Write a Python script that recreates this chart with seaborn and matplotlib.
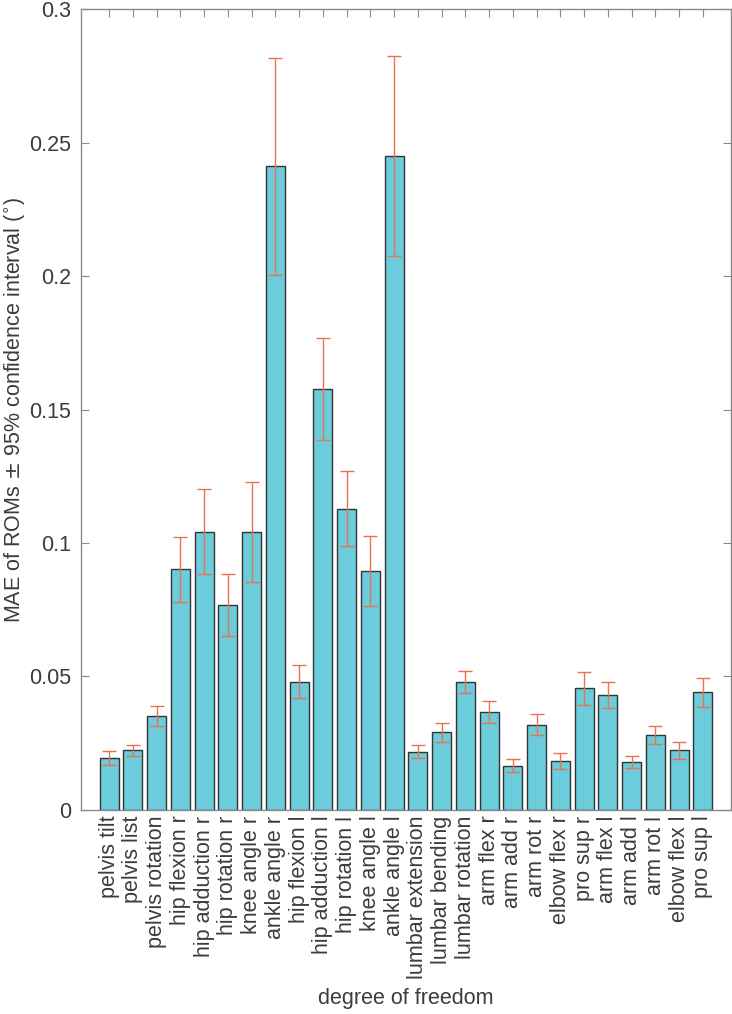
import matplotlib
matplotlib.use("Agg")

import matplotlib.pyplot as plt
import seaborn as sns
import pandas as pd

# -----------------------------------------------------------------------
# Data
# -----------------------------------------------------------------------
dofs = [
    "pelvis tilt", "pelvis list", "pelvis rotation", "hip flexion r",
    "hip adduction r", "hip rotation r", "knee angle r", "ankle angle r",
    "hip flexion l", "hip adduction l", "hip rotation l", "knee angle l",
    "ankle angle l", "lumbar extension", "lumbar bending", "lumbar rotation",
    "arm flex r", "arm add r", "arm rot r", "elbow flex r", "pro sup r",
    "arm flex l", "arm add l", "arm rot l", "elbow flex l", "pro sup l",
]
mae = [
    0.0195, 0.0223, 0.0351, 0.0901, 0.1043, 0.0768, 0.1041, 0.2411,
    0.0480, 0.1576, 0.1129, 0.0895, 0.2450, 0.0219, 0.0291, 0.0479,
    0.0366, 0.0166, 0.0319, 0.0182, 0.0456, 0.0431, 0.0180, 0.0282,
    0.0223, 0.0441,
]
ci = [
    0.0025, 0.0022, 0.0038, 0.0123, 0.0158, 0.0116, 0.0186, 0.0406,
    0.0062, 0.0192, 0.0141, 0.0132, 0.0374, 0.0025, 0.0035, 0.0042,
    0.0042, 0.0024, 0.0039, 0.0030, 0.0061, 0.0050, 0.0024, 0.0033,
    0.0033, 0.0054,
]
yticks = [0, 0.05, 0.1, 0.15, 0.2, 0.25, 0.3]
ytick_labels = ["0", "0.05", "0.1", "0.15", "0.2", "0.25", "0.3"]

df = pd.DataFrame({"dof": dofs, "mae": mae})

BAR_COLOR = "#6BCCDC"
ERR_COLOR = "#EA7250"
TEXT_COLOR = "#3c3c3c"
AXIS_COLOR = "#8a8a8a"
FS = 15.5

sns.set_style("white")
plt.rcParams["font.family"] = ["Liberation Sans", "DejaVu Sans"]

fig = plt.figure(figsize=(7.32, 10.14), dpi=100)
# axes box: x 81..731 px, y 9..810 px
ax = fig.add_axes([0.1107, 0.2012, 0.8879, 0.7899])

sns.barplot(data=df, x="dof", y="mae", color=BAR_COLOR, saturation=1,
            width=0.8, edgecolor="#333333", linewidth=1.0, ax=ax)
ax.errorbar(range(len(dofs)), mae, yerr=ci, fmt="none", ecolor=ERR_COLOR,
            elinewidth=1.0, capsize=5, capthick=1.0, zorder=5)

ax.set_xlim(-1.18, len(dofs) - 1 + 1.18)
ax.set_ylim(0, 0.3)
ax.set_yticks(yticks)
ax.set_yticklabels(ytick_labels)
ax.set_xticks(range(len(dofs)))
ax.set_xticklabels(dofs, rotation=90)

# MATLAB-like box with inward ticks on all sides
for s in ax.spines.values():
    s.set_visible(True)
    s.set_color(AXIS_COLOR)
    s.set_linewidth(1.0)
ax.tick_params(axis="both", direction="in", length=6, width=0.8,
               color=AXIS_COLOR, top=True, right=True, left=True, bottom=True,
               labelcolor=TEXT_COLOR)
ax.tick_params(axis="y", labelsize=FS, pad=7)
ax.tick_params(axis="x", labelsize=FS, pad=4)

ax.set_xlabel("degree of freedom", fontsize=FS, color=TEXT_COLOR)
ax.set_ylabel(r"MAE of ROMs $\pm$ 95% confidence interval ($^{\circ}$)",
              fontsize=FS, color=TEXT_COLOR)
ax.xaxis.set_label_coords(0.5, -0.222)
ax.yaxis.set_label_coords(-0.082, 0.5)

fig.savefig("out.png", dpi=100)
plt.close(fig)
